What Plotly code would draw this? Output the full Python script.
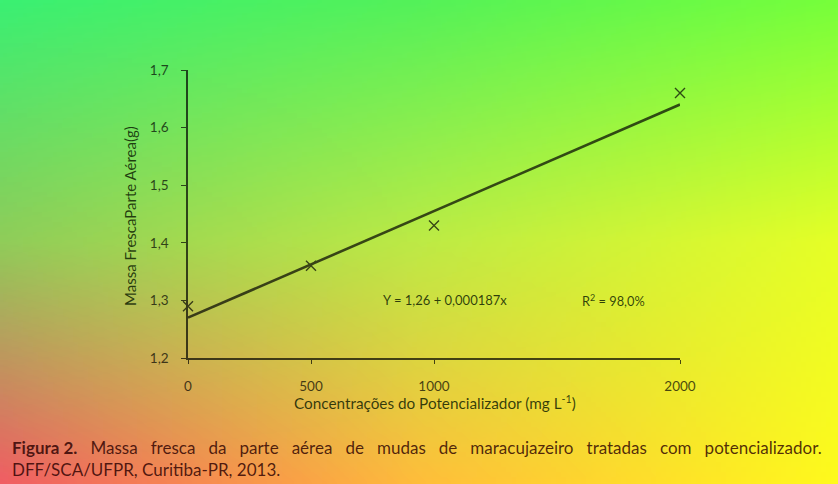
import numpy as np, zlib, struct, base64
import plotly.graph_objects as go

# ---- data ----
conc = [0, 500, 1000, 2000]
massa = [1.29, 1.36, 1.43, 1.66]
trend_x = [0, 2000]
trend_y = [1.27, 1.64]
x_ticks = [0, 500, 1000, 2000]
x_ticklabels = ["0", "500", "1000", "2000"]
y_ticks = [1.2, 1.3, 1.4, 1.5, 1.6, 1.7]
y_ticklabels = ["1,2", "1,3", "1,4", "1,5", "1,6", "1,7"]
equation = "Y = 1,26 + 0,000187x"
r2 = "R<sup>2</sup> = 98,0%"
caption1_bold = "Figura 2."
caption1_words = ["Massa", "fresca", "da", "parte", "aérea", "de", "mudas", "de",
                  "maracujazeiro", "tratadas", "com", "potencializador."]
caption2 = "DFF/SCA/UFPR, Curitiba-PR, 2013."

W, H = 838, 484
L, R, T, B = 188, 158, 70, 126
PW, PH = W - L - R, H - T - B

# ---- background gradient (styling) ----
grid = np.array([
    [[60, 240, 115], [85, 242, 90], [120, 255, 60]],
    [[145, 205, 90], [190, 235, 70], [230, 255, 40]],
    [[240, 95, 100], [255, 190, 60], [255, 250, 30]],
], dtype=float)
GW, GH = 168, 97
u = np.linspace(0, 2, GW)
v = np.linspace(0, 2, GH)
iu = np.minimum(u.astype(int), 1); fu = (u - iu)[None, :, None]
iv = np.minimum(v.astype(int), 1); fv = (v - iv)[:, None, None]
g00 = grid[iv][:, iu]
g01 = grid[iv][:, iu + 1]
g10 = grid[iv + 1][:, iu]
g11 = grid[iv + 1][:, iu + 1]
img = (g00 * (1 - fu) + g01 * fu) * (1 - fv) + (g10 * (1 - fu) + g11 * fu) * fv
img = np.clip(img, 0, 255).astype(np.uint8)


def png_uri(arr):
    h, w, _ = arr.shape
    raw = b"".join(b"\x00" + arr[i].tobytes() for i in range(h))

    def chunk(t, d):
        c = struct.pack(">I", len(d)) + t + d
        return c + struct.pack(">I", zlib.crc32(t + d) & 0xFFFFFFFF)

    png = (b"\x89PNG\r\n\x1a\n"
           + chunk(b"IHDR", struct.pack(">IIBBBBB", w, h, 8, 2, 0, 0, 0))
           + chunk(b"IDAT", zlib.compress(raw))
           + chunk(b"IEND", b""))
    return "data:image/png;base64," + base64.b64encode(png).decode()


uri = png_uri(img)

FONT = "Lato, 'DejaVu Sans', sans-serif"
TXT = "rgba(45,0,0,0.82)"

fig = go.Figure()
fig.add_trace(go.Scatter(x=trend_x, y=trend_y, mode="lines",
                         line=dict(color="black", width=2.6), showlegend=False,
                         cliponaxis=False))
fig.add_trace(go.Scatter(x=conc, y=massa, mode="markers", cliponaxis=False,
                         marker=dict(symbol="x-thin", size=10, color="black",
                                     line=dict(color="black", width=1.4)),
                         showlegend=False))

imgpos = dict(xref="paper", yref="paper", x=-L / PW, y=1 + T / PH,
              sizex=W / PW, sizey=H / PH, sizing="stretch",
              xanchor="left", yanchor="top", source=uri)
fig.add_layout_image(layer="below", opacity=1, **imgpos)
fig.add_layout_image(layer="above", opacity=0.3, **imgpos)

fig.update_layout(
    width=W, height=H,
    margin=dict(l=L, r=R, t=T, b=B),
    paper_bgcolor="rgb(180,230,80)",
    plot_bgcolor="rgba(0,0,0,0)",
    font=dict(family=FONT, size=13, color="black"),
    showlegend=False,
)
fig.update_xaxes(range=[0, 2000], tickvals=x_ticks, ticktext=x_ticklabels,
                 showgrid=False, zeroline=False, showline=True,
                 linecolor="black", linewidth=1.5, ticks="outside",
                 ticklen=4, tickcolor="black", ticklabelstandoff=11,
                 tickfont=dict(size=13.5, family=FONT))
fig.update_yaxes(range=[1.2, 1.7], tickvals=y_ticks, ticktext=y_ticklabels,
                 showgrid=False, zeroline=False, showline=True,
                 linecolor="black", linewidth=1.5, ticks="outside",
                 ticklen=5, tickcolor="black", ticklabelstandoff=10,
                 tickfont=dict(size=13.5, family=FONT))


def px(x, y):
    return (x - L) / PW, 1 - (y - T) / PH


ANN = "rgba(10,25,0,0.82)"
anns = [
    (130, 216, "Massa FrescaParte Aérea(g)", 15, -90),
    (435, 402, "Concentrações do Potencializador (mg L<sup>-1</sup>)", 15.3, 0),
    (445, 300, equation, 13, 0),
    (613, 300, r2, 12.8, 0),
]
for x, y, t, s, ang in anns:
    ax, ay = px(x, y)
    fig.add_annotation(xref="paper", yref="paper", x=ax, y=ay, text=t,
                       showarrow=False, textangle=ang, xanchor="center",
                       yanchor="middle",
                       font=dict(size=s, color=ANN, family=FONT))

gap = " \u00a0\u00a0"
cap1 = "<b>" + caption1_bold + "</b>" + gap + gap.join(caption1_words)
for y, t in [(447, cap1), (469, caption2)]:
    ax, ay = px(10, y)
    fig.add_annotation(xref="paper", yref="paper", x=ax, y=ay, text=t,
                       showarrow=False, xanchor="left", yanchor="middle",
                       font=dict(size=17.0, color=TXT, family=FONT))

fig.write_html("out.html",
               config={"displayModeBar": False},
               post_script="document.body.style.margin='0px';"
                           "document.body.style.overflow='hidden';")
